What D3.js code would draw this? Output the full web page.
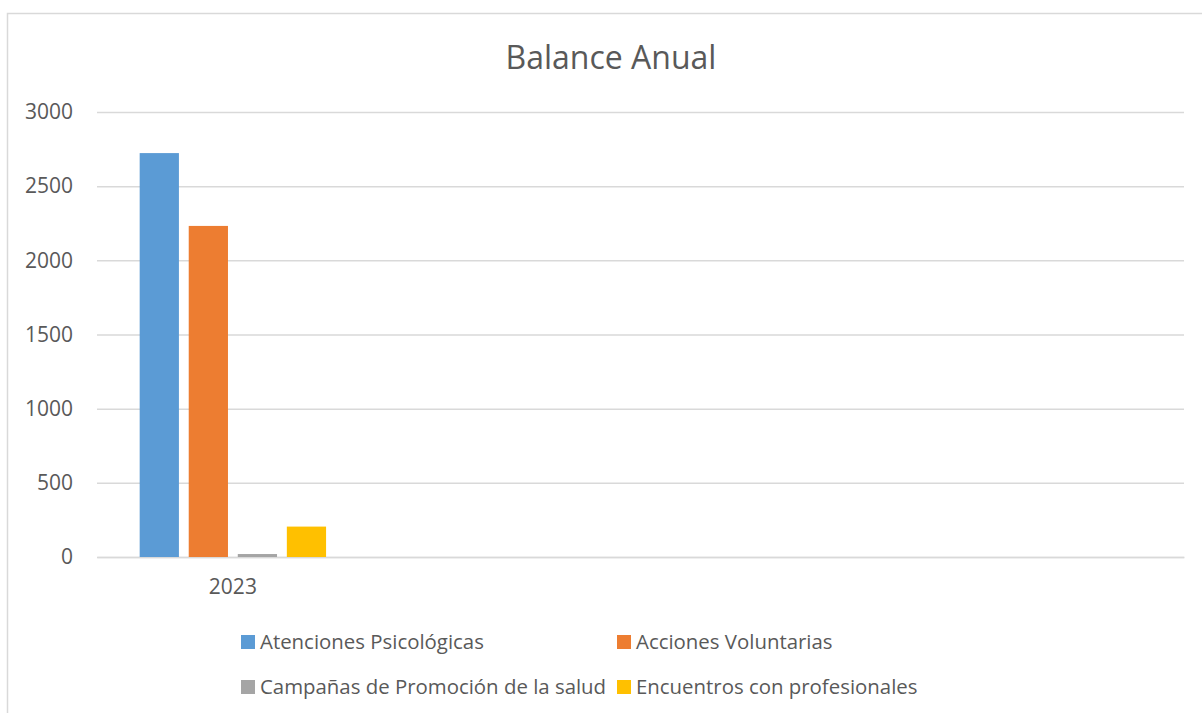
<!DOCTYPE html>
<html>
<head>
<meta charset="utf-8">
<script src="https://cdn.jsdelivr.net/npm/d3@7"></script>
<style>
  html, body { margin: 0; padding: 0; background: #fff; }
  svg { display: block; font-family: 'Open Sans', sans-serif; }
</style>
</head>
<body>
<div id="chart"></div>
<script>
// data
const categories = ['2023', '', '', ''];
const seriesNames = [
  'Atenciones Psicológicas',
  'Acciones Voluntarias',
  'Campañas de Promoción de la salud',
  'Encuentros con profesionales'
];
const atenciones = [2723];
const acciones = [2232];
const campanas = [20];
const encuentros = [205];
const seriesValues = [atenciones, acciones, campanas, encuentros];
const yTicks = [0, 500, 1000, 1500, 2000, 2500, 3000];
const colors = ['#5B9BD5', '#ED7D31', '#A5A5A5', '#FFC000'];

const W = 1202, H = 713;
const MARGIN = { TOP: 112, BOTTOM: 156, LEFT: 97, RIGHT: 18 };
const TEXT = '#595959';
const GRID = '#D9D9D9';

const svg = d3.select('#chart')
  .append('svg')
  .attr('width', W)
  .attr('height', H);

// ramka wykresu (prawa i dolna krawedz poza obrazem)
svg.append('rect')
  .attr('x', 7.5).attr('y', 13.5)
  .attr('width', W + 20).attr('height', H + 20)
  .attr('fill', 'none')
  .attr('stroke', GRID)
  .attr('stroke-width', 1.5);

svg.append('text')
  .attr('x', 611).attr('y', 69)
  .attr('text-anchor', 'middle')
  .attr('fill', TEXT)
  .style('font-size', '32px')
  .text('Balance Anual');

// skale
const x = d3.scaleBand()
  .domain(d3.range(categories.length))
  .range([MARGIN.LEFT, W - MARGIN.RIGHT]);

const xSub = d3.scaleBand()
  .domain(d3.range(seriesNames.length))
  .range([0, x.bandwidth()])
  .paddingInner(0.2)
  .paddingOuter(0.87);

const y = d3.scaleLinear()
  .domain([0, 3000])
  .range([H - MARGIN.BOTTOM, MARGIN.TOP]);

// linie siatki + os Y
const yAxis = svg.append('g')
  .attr('transform', `translate(${MARGIN.LEFT},0)`)
  .call(d3.axisLeft(y)
    .tickValues(yTicks)
    .tickFormat(d3.format('d'))
    .tickSize(-(W - MARGIN.LEFT - MARGIN.RIGHT))
    .tickPadding(24));
yAxis.select('.domain').remove();
yAxis.selectAll('line').attr('stroke', GRID).attr('stroke-width', 1.5);
yAxis.selectAll('text')
  .attr('fill', TEXT)
  .style('font-size', '21px')
  .style('font-family', "'Open Sans', sans-serif");

// os X
const xAxis = svg.append('g')
  .attr('transform', `translate(0,${y(0)})`)
  .call(d3.axisBottom(x).tickFormat(i => categories[i]).tickSize(0).tickPadding(22));
xAxis.select('.domain').attr('stroke', GRID).attr('stroke-width', 1.5);
xAxis.selectAll('text')
  .attr('fill', TEXT)
  .style('font-size', '21px')
  .style('font-family', "'Open Sans', sans-serif");

// slupki
const groups = svg.append('g')
  .selectAll('g')
  .data(categories.map((c, i) => i))
  .join('g')
  .attr('transform', i => `translate(${x(i)},0)`);

groups.selectAll('rect')
  .data(i => seriesValues.map((vals, s) => ({ s, v: vals[i] })).filter(d => d.v != null))
  .join('rect')
  .attr('x', d => xSub(d.s))
  .attr('width', xSub.bandwidth())
  .attr('y', d => y(d.v))
  .attr('height', d => y(0) - y(d.v))
  .attr('fill', d => colors[d.s]);

// legenda
const legendCols = [241, 617];
const legendRows = [642, 687];
const legend = svg.append('g')
  .selectAll('g')
  .data(seriesNames)
  .join('g')
  .attr('transform', (d, i) => `translate(${legendCols[i % 2]},${legendRows[Math.floor(i / 2)]})`);

legend.append('rect')
  .attr('x', 0).attr('y', -7)
  .attr('width', 14).attr('height', 14)
  .attr('fill', (d, i) => colors[i]);

legend.append('text')
  .attr('x', 19).attr('y', 0)
  .attr('dy', '0.35em')
  .attr('fill', TEXT)
  .style('font-size', '20.4px')
  .text(d => d);
</script>
</body>
</html>
